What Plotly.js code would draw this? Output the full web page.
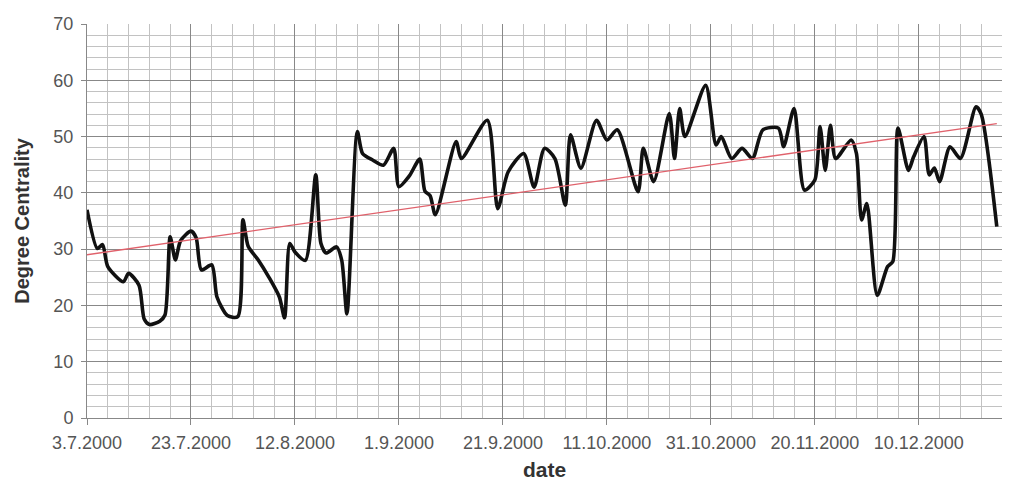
<!DOCTYPE html>
<html>
<head>
<meta charset="utf-8">
<script src="https://cdn.plot.ly/plotly-3.0.1.min.js"></script>
<style>
  html, body { margin: 0; padding: 0; background: #fff; }
  #chart { width: 1011px; height: 483px; }
</style>
</head>
<body>
<div id="chart"></div>
<script>
// Degree centrality readings (dates and values)
const dates = [
  '2000-07-03','2000-07-05','2000-07-06','2000-07-07','2000-07-10','2000-07-11','2000-07-13','2000-07-14',
  '2000-07-15','2000-07-17','2000-07-18','2000-07-19','2000-07-20','2000-07-21','2000-07-23','2000-07-24',
  '2000-07-25','2000-07-27','2000-07-28','2000-07-30','2000-08-01','2000-08-02','2000-08-03','2000-08-05',
  '2000-08-07','2000-08-09','2000-08-10','2000-08-11','2000-08-12','2000-08-14','2000-08-16','2000-08-17',
  '2000-08-18','2000-08-20','2000-08-21','2000-08-22','2000-08-24','2000-08-25','2000-08-27','2000-08-29',
  '2000-08-31','2000-09-01','2000-09-03','2000-09-05','2000-09-06','2000-09-07','2000-09-08','2000-09-12',
  '2000-09-13','2000-09-18','2000-09-20','2000-09-22','2000-09-25','2000-09-27','2000-09-29','2000-10-01',
  '2000-10-03','2000-10-04','2000-10-06','2000-10-09','2000-10-11','2000-10-13','2000-10-17','2000-10-18',
  '2000-10-20','2000-10-23','2000-10-24','2000-10-25','2000-10-26','2000-10-30','2000-11-01','2000-11-02',
  '2000-11-04','2000-11-06','2000-11-08','2000-11-10','2000-11-13','2000-11-14','2000-11-16','2000-11-18',
  '2000-11-20','2000-11-21','2000-11-22','2000-11-23','2000-11-24','2000-11-27','2000-11-28','2000-11-29',
  '2000-11-30','2000-12-02','2000-12-04','2000-12-05','2000-12-06','2000-12-08','2000-12-09','2000-12-11',
  '2000-12-12','2000-12-13','2000-12-14','2000-12-16','2000-12-18','2000-12-21','2000-12-22','2000-12-25'
];
const centrality = [
  37.0, 30.1, 30.8, 26.9, 24.2, 25.7, 23.6, 17.6,
  16.6, 17.2, 18.3, 32.2, 28.1, 31.5, 33.2, 32.0,
  26.3, 27.2, 21.5, 18.2, 18.0, 35.2, 30.5, 28.0,
  25.0, 21.5, 17.8, 31.0, 29.5, 28.0, 43.2, 31.0,
  29.3, 30.4, 28.0, 18.5, 50.9, 47.0, 45.8, 44.9,
  47.9, 41.1, 43.0, 46.0, 40.3, 39.5, 36.1, 49.1,
  46.1, 52.9, 37.2, 43.7, 47.0, 41.0, 47.9, 46.1,
  37.8, 50.3, 44.4, 52.9, 49.4, 51.2, 40.2, 47.9,
  42.0, 54.1, 46.1, 55.0, 50.0, 59.1, 48.5, 50.0,
  46.1, 47.9, 46.1, 51.2, 51.5, 48.2, 55.0, 40.5,
  42.3, 51.8, 44.0, 52.0, 46.1, 49.4, 47.0, 35.2,
  38.1, 21.8, 26.9, 27.8, 51.5, 44.0, 46.4, 50.0,
  43.2, 44.4, 42.0, 48.2, 46.1, 55.3, 54.0, 34.0
];
// Linear trend line end points
const trendDates = ['2000-07-03', '2000-12-25'];
const trendValues = [29.0, 52.3];
// Axis tick labels
const tickDates = ['2000-07-03','2000-07-23','2000-08-12','2000-09-01','2000-09-21','2000-10-11','2000-10-31','2000-11-20','2000-12-10'];
const tickLabels = ['3.7.2000','23.7.2000','12.8.2000','1.9.2000','21.9.2000','11.10.2000','31.10.2000','20.11.2000','10.12.2000'];

const DAY = 86400000;
const traces = [
  {
    x: dates, y: centrality, type: 'scatter', mode: 'lines',
    line: { color: '#111111', width: 3.6, shape: 'spline', smoothing: 0.7 },
    hoverinfo: 'x+y', showlegend: false
  },
  {
    x: trendDates, y: trendValues, type: 'scatter', mode: 'lines',
    line: { color: '#e0616b', width: 1.3 },
    showlegend: false
  }
];

const fam = 'Liberation Sans, Arial, sans-serif';
const layout = {
  width: 1011, height: 483,
  margin: { l: 87, r: 9, t: 24, b: 65 },
  paper_bgcolor: '#ffffff', plot_bgcolor: '#ffffff',
  font: { family: fam, color: '#555555', size: 18 },
  showlegend: false,
  xaxis: {
    type: 'date',
    range: ['2000-07-03', '2000-12-26'],
    tickmode: 'array', tickvals: tickDates, ticktext: tickLabels,
    tickfont: { size: 18, color: '#555555' },
    ticks: 'outside', ticklen: 6, tickcolor: '#888888', ticklabelstandoff: 2,
    showgrid: true, gridcolor: '#888888', gridwidth: 1,
    minor: { dtick: 4 * DAY, tick0: '2000-07-03', showgrid: true, gridcolor: '#c2c2c2', gridwidth: 1 },
    showline: true, linecolor: '#888888', linewidth: 1,
    zeroline: false, fixedrange: true,
    title: { text: 'date', font: { size: 21, color: '#333333', family: fam, weight: 'bold' }, standoff: 10 }
  },
  yaxis: {
    range: [0, 70], dtick: 10, tick0: 0,
    tickfont: { size: 18, color: '#555555' },
    ticks: 'outside', ticklen: 5, tickcolor: '#888888', ticklabelstandoff: 4,
    showgrid: true, gridcolor: '#888888', gridwidth: 1,
    minor: { dtick: 2, showgrid: true, gridcolor: '#c2c2c2', gridwidth: 1 },
    showline: true, linecolor: '#888888', linewidth: 1,
    zeroline: false, fixedrange: true,
    title: { text: 'Degree Centrality', font: { size: 20, color: '#333333', family: fam, weight: 'bold' }, standoff: 18 }
  }
};

Plotly.newPlot('chart', traces, layout, { displayModeBar: false, staticPlot: true });
</script>
</body>
</html>
